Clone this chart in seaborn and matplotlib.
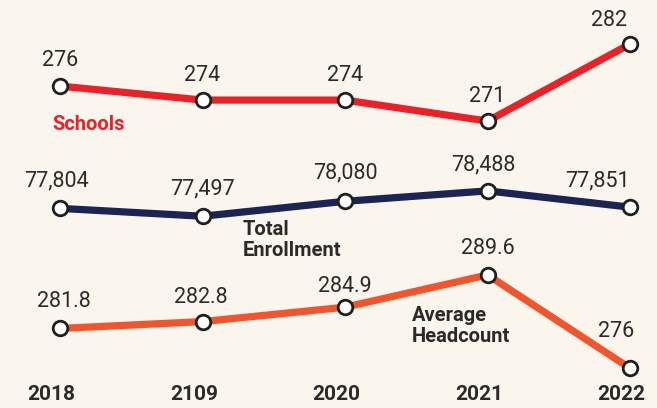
import matplotlib
matplotlib.use("Agg")
import matplotlib.pyplot as plt
import matplotlib.transforms as mtransforms
import pandas as pd
import seaborn as sns

years = ["2018", "2109", "2020", "2021", "2022"]
schools = [276, 274, 274, 271, 282]
enrollment = [77804, 77497, 78080, 78488, 77851]
headcount = [281.8, 282.8, 284.9, 289.6, 276]

schools_labels = ["276", "274", "274", "271", "282"]
enrollment_labels = ["77,804", "77,497", "78,080", "78,488", "77,851"]
headcount_labels = ["281.8", "282.8", "284.9", "289.6", "276"]

bg = "#faf6ee"
sns.set_theme(style="white")
plt.rcParams["font.family"] = ["Roboto", "DejaVu Sans"]

fig = plt.figure(figsize=(6.57, 4.08), dpi=100, facecolor=bg)
ax1 = fig.add_axes([0, 0, 1, 1])
ax1.set_facecolor(bg)
ax2 = ax1.twinx()
ax3 = ax1.twinx()

series = [
    (ax1, schools, schools_labels, "#ec2128", (230.0, 288.3),
     [(0, 26), (0, 25), (0, 25), (0, 25), (-21, 24)]),
    (ax2, enrollment, enrollment_labels, "#1b2453", (70000, 85950),
     [(-4, 27), (0, 27), (0, 28), (-4, 26), (-33, 26)]),
    (ax3, headcount, headcount_labels, "#f2552b", (270.2, 329.7),
     [(4, 27), (-2, 24), (0, 21), (0, 26), (-14, 37)]),
]

df_x = list(range(len(years)))
for ax, vals, labels, color, ylim, offs in series:
    df = pd.DataFrame({"x": df_x, "y": vals})
    sns.lineplot(data=df, x="x", y="y", ax=ax, color=color, linewidth=5.2,
                 marker="o", markersize=10.5, markerfacecolor="white",
                 markeredgecolor="#1f1f1f", markeredgewidth=2, clip_on=False)
    ax.set_ylim(*ylim)
    ax.set_xlim(-0.421, 4.189)
    for i, (v, lab) in enumerate(zip(vals, labels)):
        ax.annotate(lab, (i, v), xytext=offs[i], textcoords="offset pixels",
                    ha="center", va="center", fontsize=15.5, color="#2a2a2a")
    ax.axis("off")

# series names
fig.text(52 / 657, 1 - 124 / 408, "Schools", ha="left", va="center",
         fontsize=14.5, fontweight="bold", color="#ec2128")
fig.text(243 / 657, 1 - 240 / 408, "Total\nEnrollment", ha="left", va="center",
         fontsize=14.5, fontweight="bold", color="#2a2a2a", linespacing=1.15)
fig.text(412 / 657, 1 - 326 / 408, "Average\nHeadcount", ha="left", va="center",
         fontsize=14.5, fontweight="bold", color="#2a2a2a", linespacing=1.15)

# year labels
trans = mtransforms.blended_transform_factory(ax1.transData, fig.transFigure)
for i, y in enumerate(years):
    ax1.text(i - 0.06, 1 - 395 / 408, y, transform=trans, ha="center", va="center",
             fontsize=15, fontweight="bold", color="#2a2a2a")

fig.savefig("out.png", dpi=100, facecolor=bg)
